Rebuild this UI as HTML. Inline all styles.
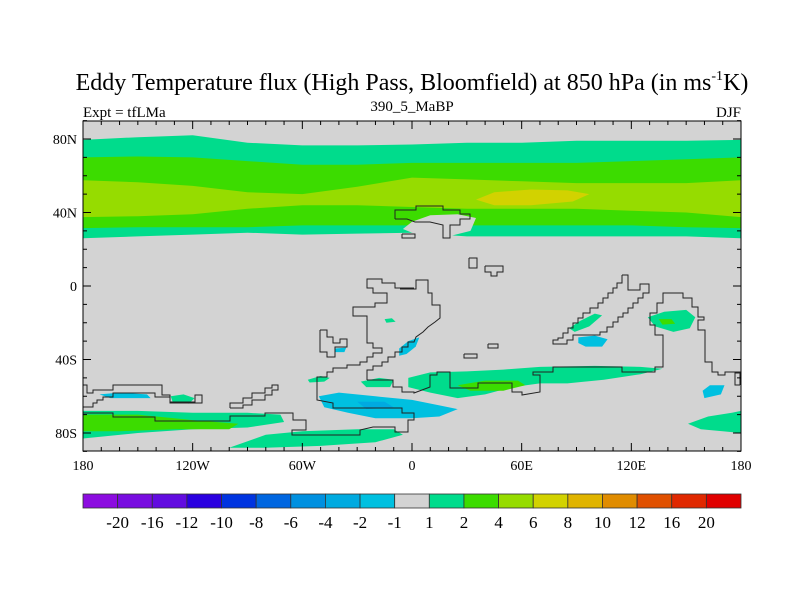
<!DOCTYPE html>
<html><head><meta charset="utf-8"><style>
body{margin:0;background:#fff;}
svg{display:block;font-family:"Liberation Serif",serif;}
</style></head><body>
<svg id="chart" width="800" height="600" viewBox="0 0 800 600" xmlns="http://www.w3.org/2000/svg">
<text x="412" y="90" font-size="24" text-anchor="middle">Eddy Temperature flux (High Pass, Bloomfield) at 850 hPa (in ms<tspan font-size="14" dy="-10">-1</tspan><tspan dy="10">K)</tspan></text>
<text x="83" y="117" font-size="15">Expt = tfLMa</text>
<text x="412" y="111" font-size="15" text-anchor="middle">390_5_MaBP</text>
<text x="741" y="117" font-size="15" text-anchor="end">DJF</text>
<g id="plot"></g>
<g id="cbar"></g>
</svg>
<script>
// ---- data ----
const bandLons = [-180,-150,-120,-90,-60,-30,0,30,60,90,120,150,180];
const lev1Top = [79.5,81,82,78,76.5,76.5,77,78,78,79,79,79,79.5];
const lev2Top = [70,70.5,70,68,66,66,67,67,67,67,68,69,70];
const lev3Top = [57.5,56.5,54.5,51,50,54,59,58,57,56,56,56,57.5];
const lev3Bot = [37.5,38,39,42,44,44,43,42,42,42,41,40,37.5];
const lev2Bot = [31.5,32,32,32,33,33,33,33,33,33,33,32,31.5];
const lev1Bot = [26,27,28,29,28,28.5,29,27,27,27,27,27,26];
const yellowBlob = [[35,47],[45,51],[65,52.5],[85,52],[97,50],[88,46],[65,44],[45,44]];
const grayCut = [[-5,31],[0,35],[10,38.5],[25,39],[35,37],[32,30],[20,27],[5,27]];
const green1Blobs = [
 [[-180,-68],[-150,-68],[-120,-69],[-90,-69],[-72,-70],[-70,-74],[-90,-77],[-120,-78],[-150,-80],[-180,-83]],
 [[-100,-88],[-80,-81],[-60,-79],[-30,-78],[-10,-78],[-5,-81],[-20,-85],[-50,-87],[-80,-88]],
 [[-132,-60],[-125,-59],[-119,-61],[-122,-64],[-131,-63]],
 [[-2,-50],[10,-47],[30,-46.5],[50,-45.5],[70,-44],[100,-43.5],[125,-44],[137,-45],[125,-48],[105,-51],[85,-53],[70,-53],[55,-55],[40,-59],[25,-61],[10,-58],[-2,-55]],
 [[-57,-51],[-50,-49],[-45,-50],[-48,-52],[-56,-52.5]],
 [[-28,-52],[-18,-50],[-10,-51],[-12,-55],[-25,-55]],
 [[129,-17],[138,-14],[150,-13],[155,-17],[152,-23],[143,-25],[133,-22]],
 [[86,-23],[92,-19],[100,-15],[104,-16],[97,-22],[89,-25]],
 [[-15,-18],[-11,-17.5],[-9,-19.5],[-14,-20]],
 [[151,-75],[162,-71],[175,-69],[180,-68],[180,-80],[170,-79],[158,-78]]
];
const green2Blobs = [
 [[-180,-70],[-150,-70],[-120,-73],[-95,-75],[-100,-78],[-130,-78],[-160,-79],[-180,-79]],
 [[25,-54],[40,-51.5],[58,-51.5],[62,-54],[50,-57],[32,-57]],
 [[135,-18],[142,-18],[144,-20.5],[137,-21]]
];
const blue1Blobs = [
 [[-51,-60],[-40,-58],[-20,-60],[0,-62],[15,-65],[25,-67],[15,-71],[0,-72],[-20,-72],[-35,-69],[-48,-66]],
 [[-171,-59],[-160,-58],[-145,-59],[-143,-61],[-165,-61]],
 [[91,-28],[100,-27],[107,-29],[104,-33],[95,-33],[91,-31]],
 [[159,-57],[163,-54],[171,-54],[169,-59],[160,-61]],
 [[-7,-34],[-2,-30],[4,-28],[2,-33],[-3,-37],[-7,-38]],
 [[-42,-34],[-36,-33.5],[-37,-36],[-42,-36]]
];
const blue2Blobs = [
 [[-30,-63],[-15,-63],[-10,-66],[-25,-67]]
];
const lonTicks = [-180,-120,-60,0,60,120,180];
const lonLabels = ["180","120W","60W","0","60E","120E","180"];
const latTicks = [80,40,0,-40,-80];
const latLabels = ["80N","40N","0","40S","80S"];
const cbarColors = ["#8c0ce0","#780ce0","#620ce0","#2a00e0","#0034e0","#0066e0","#0090e0","#00aae0","#00c0e0","#d3d3d3","#00dc8c","#3cdc00","#96dc00","#d2d200","#e0b400","#e08c00","#e05000","#e02800","#e00000"];
const cbarLabels = ["-20","-16","-12","-10","-8","-6","-4","-2","-1","1","2","4","6","8","10","12","16","20"];

// ---- axes ----
const x0=83,x1=741,y0=121,y1=451;
const X = lon => x0 + (lon+180)*(x1-x0)/360;
const Y = lat => 286 - lat*1.8375;
const NS="http://www.w3.org/2000/svg";
const plot=document.getElementById('plot');
function mk(tag,attrs,parent){const e=document.createElementNS(NS,tag);for(const k in attrs)e.setAttribute(k,attrs[k]);(parent||plot).appendChild(e);return e;}
function polyStr(pts){return pts.map(p=>X(p[0]).toFixed(1)+','+Y(p[1]).toFixed(1)).join(' ');}

let bg=mk('rect',{x:x0,y:y0,width:x1-x0,height:y1-y0,fill:'#d3d3d3'});



function band(top,bot,color,name){
  const pts=[];
  bandLons.forEach((l,i)=>pts.push([l,top[i]]));
  for(let i=bandLons.length-1;i>=0;i--)pts.push([bandLons[i],bot[i]]);
  const p=mk('polygon',{points:polyStr(pts),fill:color});
  
  
}
band(lev1Top,lev1Bot,'#00dc8c','band-level-1');
band(lev2Top,lev2Bot,'#3cdc00','band-level-2');
band(lev3Top,lev3Bot,'#96dc00','band-level-4');
let yb=mk('polygon',{points:polyStr(yellowBlob),fill:'#d2d200'});


let gc=mk('polygon',{points:polyStr(grayCut),fill:'#d3d3d3'});



function blobs(list,color,name){
  list.forEach(b=>{
    const p=mk('polygon',{points:polyStr(b),fill:color});
    
    
  });
}
blobs(green1Blobs,'#00dc8c','blob-level-1');
blobs(green2Blobs,'#3cdc00','blob-level-2');
blobs(blue1Blobs,'#00c0e0','blob-level-neg1');
blobs(blue2Blobs,'#00aae0','blob-level-neg2');

// coastlines (map geometry, pixel coords)
const coasts=[
"395,219 395,210 416,210 416,206 443,206 443,210 460,210 460,214 470,214 470,219 460,219 460,225 450,225 450,238 443,238 443,225 430,222 415,222 407,219 395,219",
"402,234 415,234 415,238 402,238 402,234",
"469,258 477,258 477,268 469,268 469,258",
"485,266 503,266 503,272 497,272 497,276 491,276 491,272 485,272 485,266",
"488,344 498,344 498,348 488,348 488,344",
"464,354 477,354 477,358 464,358 464,354",
"320,330 327,330 327,337 333,337 333,343 340,343 340,339 347,339 347,347 335,347 335,357 327,357 327,352 320,352 320,330",
"414,288 395,288 395,283 382,283 382,279 367,279 367,288 373,288 373,293 387,293 387,303 375,303 375,307 353,307 353,316 367,316 367,343 373,343 373,348 382,348 382,353 373,353 373,357 367,357 367,362 360,362 360,365 347,365 347,368 333,368 333,372 327,372 327,377 317,377 317,400 333,403 333,408 402,408 402,413 414,413 414,420 408,420 408,432 395,432 395,427 373,427 360,430 360,435 292,435 292,430 306,430 306,420 293,420 293,413 280,413",
"367,380 393,380 393,387 402,387 402,392 414,392 414,393 430,387 430,375 437,375 437,372 450,372 450,388 478,388 478,383 512,383 512,392 522,392 522,395 540,392 540,375 533,375 533,372 553,372 553,367 622,367 622,372 655,372 655,367 663,367 663,335 655,335 655,325 650,325 650,313 657,313 657,303 663,303 663,293 683,293 683,298 692,298 692,307 698,307 698,317 704,317 704,320 698,320 698,330 705,330 705,362 712,362 712,372 718,372 718,375 725,375 725,372 740,372 740,385",
"367,380 367,370 373,370 373,366 382,366 382,362 388,362 388,357 395,357 395,352 402,352 402,347 408,347 408,342 414,342 416,337 423,332 428,327 435,322 440,318 440,305 432,305 432,293 428,293 428,280 416,280 416,289 400,289",
"622,275 628,275 628,290 640,290 640,284 649,284 649,293 643,293 643,298 638,298 638,303 633,303 633,308 628,308 628,313 623,313 623,317 618,317 618,322 613,322 613,327 607,327 607,332 600,332 600,335 573,335 573,340 567,340 567,344 553,344 553,340 558,340 558,338 563,338 563,333 568,333 568,328 573,328 573,323 578,323 578,318 583,318 583,313 590,313 590,308 598,308 598,303 603,303 603,298 608,298 608,293 613,293 613,288 617,288 617,283 622,283 622,275",
"83,413 113,413 113,417 155,417 155,421 230,421 230,416 265,416 265,413 280,413",
"83,385 87,385 87,393 93,393 93,390 113,390 113,385 162,385 162,395 170,395 170,402 195,402 195,395 202,395 202,403 170,403 170,397 155,397 155,393 113,393 113,397 103,397 103,400 97,400 97,403 93,403 93,407 83,407",
"230,408 230,403 243,403 243,398 252,398 252,393 265,393 265,388 272,388 272,385 278,385 278,390 272,390 272,395 265,395 265,400 252,400 252,405 243,405 243,408 230,408",
"740,373 735,373 735,385 740,385"
];
coasts.forEach(c=>{
  const p=mk('polyline',{points:c,fill:'none',stroke:'#222',"stroke-width":1});
  
  
});

// frame and ticks
let fr=mk('rect',{x:x0,y:y0,width:x1-x0,height:y1-y0,fill:'none',stroke:'#000',"stroke-width":1});


for(let l=-180;l<=180;l+=10){
  const maj=(l%60===0);const len=maj?8:4;
  mk('line',{x1:X(l),x2:X(l),y1:y0,y2:y0+len,stroke:'#000'});
  mk('line',{x1:X(l),x2:X(l),y1:y1,y2:y1-len,stroke:'#000'});
}
for(let a=-90;a<=90;a+=10){
  const maj=(a%40===0);const len=maj?8:4;
  mk('line',{x1:x0,x2:x0+len,y1:Y(a),y2:Y(a),stroke:'#000'});
  mk('line',{x1:x1,x2:x1-len,y1:Y(a),y2:Y(a),stroke:'#000'});
}
lonTicks.forEach((l,i)=>{
  const t=mk('text',{x:X(l),y:470,"font-size":14,"text-anchor":"middle"});
  t.textContent=lonLabels[i];
  
  
});
latTicks.forEach((a,i)=>{
  const t=mk('text',{x:77,y:Y(a)+5,"font-size":14,"text-anchor":"end"});
  t.textContent=latLabels[i];
  
  
});

// colorbar
const cb=document.getElementById('cbar');
const bw=(741-83)/cbarColors.length;
cbarColors.forEach((c,i)=>{
  const r=mk('rect',{x:83+i*bw,y:494,width:bw,height:14,fill:c,stroke:'#333',"stroke-width":0.8},cb);
  
  
});
cbarLabels.forEach((s,i)=>{
  const t=mk('text',{x:83+(i+1)*bw,y:528,"font-size":17,"text-anchor":"middle"},cb);
  t.textContent=s;
  
  
});
</script>
</body></html>
